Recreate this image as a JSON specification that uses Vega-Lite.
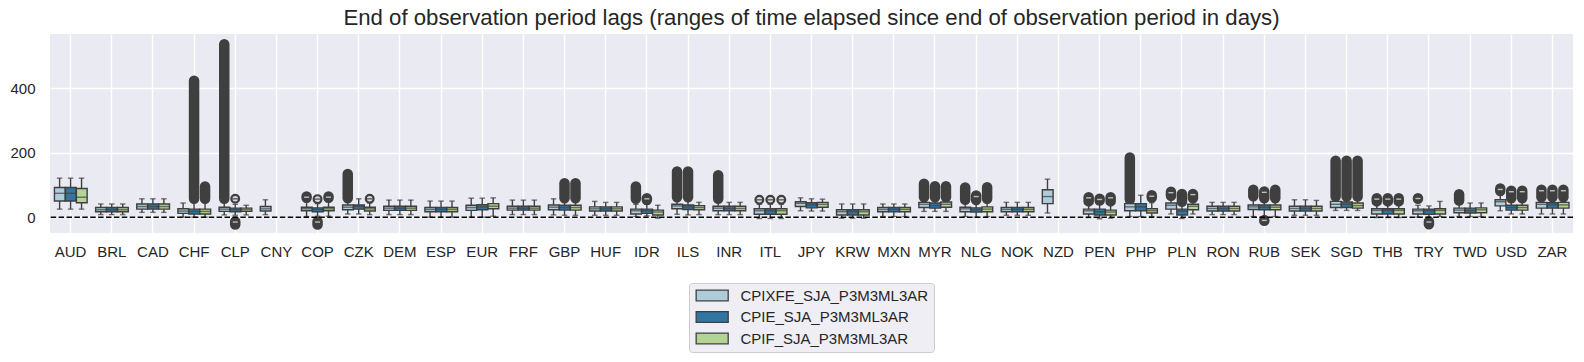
{
  "$schema": "https://vega.github.io/schema/vega-lite/v6.json",
  "width": 1523,
  "height": 199,
  "autosize": {"type": "none"},
  "padding": {"left": 50, "top": 34, "right": 11, "bottom": 129},
  "background": "white",
  "title": {"text": "End of observation period lags (ranges of time elapsed since end of observation period in days)", "fontSize": 22.2, "font": "Liberation Sans", "fontWeight": "normal", "color": "#262626", "anchor": "middle", "offset": 5},
  "config": {
    "view": {"fill": "#eaeaf2", "stroke": null},
    "axis": {"labelFont": "Liberation Sans", "labelFontSize": 15, "labelColor": "#262626", "domain": false, "ticks": false, "tickSize": 0, "grid": true, "gridColor": "white", "gridWidth": 1.4, "title": null}
  },
  "datasets": {
    "box": [
      {"c":"AUD","h":"CPIXFE_SJA_P3M3ML3AR","lo":25,"q1":50,"md":74,"q3":92,"hi":121},
      {"c":"AUD","h":"CPIE_SJA_P3M3ML3AR","lo":25,"q1":50,"md":74,"q3":92,"hi":121},
      {"c":"AUD","h":"CPIF_SJA_P3M3ML3AR","lo":25,"q1":45,"md":62,"q3":89,"hi":121},
      {"c":"BRL","h":"CPIXFE_SJA_P3M3ML3AR","lo":8,"q1":17,"md":23,"q3":30,"hi":41},
      {"c":"BRL","h":"CPIE_SJA_P3M3ML3AR","lo":8,"q1":17,"md":23,"q3":30,"hi":41},
      {"c":"BRL","h":"CPIF_SJA_P3M3ML3AR","lo":8,"q1":17,"md":23,"q3":30,"hi":41},
      {"c":"CAD","h":"CPIXFE_SJA_P3M3ML3AR","lo":15,"q1":25,"md":33,"q3":41,"hi":57},
      {"c":"CAD","h":"CPIE_SJA_P3M3ML3AR","lo":15,"q1":25,"md":33,"q3":41,"hi":57},
      {"c":"CAD","h":"CPIF_SJA_P3M3ML3AR","lo":15,"q1":25,"md":33,"q3":41,"hi":57},
      {"c":"CHF","h":"CPIXFE_SJA_P3M3ML3AR","lo":0,"q1":12,"md":19,"q3":26,"hi":44},
      {"c":"CHF","h":"CPIE_SJA_P3M3ML3AR","lo":0,"q1":10,"md":18,"q3":25,"hi":48},
      {"c":"CHF","h":"CPIF_SJA_P3M3ML3AR","lo":0,"q1":10,"md":18,"q3":25,"hi":48},
      {"c":"CLP","h":"CPIXFE_SJA_P3M3ML3AR","lo":7,"q1":18,"md":25,"q3":31,"hi":48},
      {"c":"CLP","h":"CPIE_SJA_P3M3ML3AR","lo":6,"q1":17,"md":23,"q3":28,"hi":40},
      {"c":"CLP","h":"CPIF_SJA_P3M3ML3AR","lo":7,"q1":18,"md":23,"q3":28,"hi":37},
      {"c":"CNY","h":"CPIXFE_SJA_P3M3ML3AR","lo":8,"q1":19,"md":26,"q3":33,"hi":54},
      {"c":"COP","h":"CPIXFE_SJA_P3M3ML3AR","lo":2,"q1":20,"md":26,"q3":31,"hi":48},
      {"c":"COP","h":"CPIE_SJA_P3M3ML3AR","lo":3,"q1":17,"md":24,"q3":29,"hi":42},
      {"c":"COP","h":"CPIF_SJA_P3M3ML3AR","lo":3,"q1":20,"md":26,"q3":31,"hi":48},
      {"c":"CZK","h":"CPIXFE_SJA_P3M3ML3AR","lo":10,"q1":23,"md":31,"q3":38,"hi":48},
      {"c":"CZK","h":"CPIE_SJA_P3M3ML3AR","lo":10,"q1":25,"md":33,"q3":38,"hi":57},
      {"c":"CZK","h":"CPIF_SJA_P3M3ML3AR","lo":8,"q1":19,"md":26,"q3":31,"hi":44},
      {"c":"DEM","h":"CPIXFE_SJA_P3M3ML3AR","lo":8,"q1":21,"md":28,"q3":34,"hi":53},
      {"c":"DEM","h":"CPIE_SJA_P3M3ML3AR","lo":8,"q1":21,"md":28,"q3":34,"hi":53},
      {"c":"DEM","h":"CPIF_SJA_P3M3ML3AR","lo":8,"q1":21,"md":28,"q3":34,"hi":53},
      {"c":"ESP","h":"CPIXFE_SJA_P3M3ML3AR","lo":0,"q1":17,"md":24,"q3":30,"hi":50},
      {"c":"ESP","h":"CPIE_SJA_P3M3ML3AR","lo":0,"q1":17,"md":24,"q3":30,"hi":50},
      {"c":"ESP","h":"CPIF_SJA_P3M3ML3AR","lo":0,"q1":17,"md":24,"q3":30,"hi":50},
      {"c":"EUR","h":"CPIXFE_SJA_P3M3ML3AR","lo":0,"q1":21,"md":30,"q3":37,"hi":59},
      {"c":"EUR","h":"CPIE_SJA_P3M3ML3AR","lo":0,"q1":23,"md":32,"q3":39,"hi":59},
      {"c":"EUR","h":"CPIF_SJA_P3M3ML3AR","lo":3,"q1":26,"md":34,"q3":42,"hi":60},
      {"c":"FRF","h":"CPIXFE_SJA_P3M3ML3AR","lo":8,"q1":22,"md":28,"q3":34,"hi":53},
      {"c":"FRF","h":"CPIE_SJA_P3M3ML3AR","lo":8,"q1":22,"md":28,"q3":34,"hi":53},
      {"c":"FRF","h":"CPIF_SJA_P3M3ML3AR","lo":8,"q1":22,"md":28,"q3":34,"hi":53},
      {"c":"GBP","h":"CPIXFE_SJA_P3M3ML3AR","lo":7,"q1":23,"md":31,"q3":38,"hi":57},
      {"c":"GBP","h":"CPIE_SJA_P3M3ML3AR","lo":6,"q1":22,"md":30,"q3":37,"hi":50},
      {"c":"GBP","h":"CPIF_SJA_P3M3ML3AR","lo":6,"q1":22,"md":30,"q3":37,"hi":50},
      {"c":"HUF","h":"CPIXFE_SJA_P3M3ML3AR","lo":6,"q1":19,"md":26,"q3":32,"hi":49},
      {"c":"HUF","h":"CPIE_SJA_P3M3ML3AR","lo":6,"q1":19,"md":26,"q3":32,"hi":46},
      {"c":"HUF","h":"CPIF_SJA_P3M3ML3AR","lo":6,"q1":19,"md":26,"q3":32,"hi":46},
      {"c":"IDR","h":"CPIXFE_SJA_P3M3ML3AR","lo":2,"q1":10,"md":20,"q3":25,"hi":40},
      {"c":"IDR","h":"CPIE_SJA_P3M3ML3AR","lo":4,"q1":12,"md":20,"q3":25,"hi":40},
      {"c":"IDR","h":"CPIF_SJA_P3M3ML3AR","lo":-3,"q1":7,"md":16,"q3":22,"hi":37},
      {"c":"ILS","h":"CPIXFE_SJA_P3M3ML3AR","lo":9,"q1":26,"md":35,"q3":40,"hi":55},
      {"c":"ILS","h":"CPIE_SJA_P3M3ML3AR","lo":7,"q1":24,"md":32,"q3":38,"hi":55},
      {"c":"ILS","h":"CPIF_SJA_P3M3ML3AR","lo":8,"q1":23,"md":30,"q3":36,"hi":46},
      {"c":"INR","h":"CPIXFE_SJA_P3M3ML3AR","lo":8,"q1":20,"md":28,"q3":34,"hi":48},
      {"c":"INR","h":"CPIE_SJA_P3M3ML3AR","lo":8,"q1":20,"md":27,"q3":34,"hi":46},
      {"c":"INR","h":"CPIF_SJA_P3M3ML3AR","lo":8,"q1":20,"md":27,"q3":34,"hi":46},
      {"c":"ITL","h":"CPIXFE_SJA_P3M3ML3AR","lo":-4,"q1":9,"md":20,"q3":26,"hi":40},
      {"c":"ITL","h":"CPIE_SJA_P3M3ML3AR","lo":-4,"q1":9,"md":20,"q3":26,"hi":40},
      {"c":"ITL","h":"CPIF_SJA_P3M3ML3AR","lo":-4,"q1":9,"md":20,"q3":26,"hi":40},
      {"c":"JPY","h":"CPIXFE_SJA_P3M3ML3AR","lo":20,"q1":33,"md":43,"q3":48,"hi":60},
      {"c":"JPY","h":"CPIE_SJA_P3M3ML3AR","lo":19,"q1":29,"md":38,"q3":45,"hi":57},
      {"c":"JPY","h":"CPIF_SJA_P3M3ML3AR","lo":19,"q1":31,"md":40,"q3":46,"hi":56},
      {"c":"KRW","h":"CPIXFE_SJA_P3M3ML3AR","lo":-3,"q1":7,"md":17,"q3":23,"hi":41},
      {"c":"KRW","h":"CPIE_SJA_P3M3ML3AR","lo":-3,"q1":7,"md":17,"q3":23,"hi":41},
      {"c":"KRW","h":"CPIF_SJA_P3M3ML3AR","lo":-3,"q1":7,"md":17,"q3":23,"hi":41},
      {"c":"MXN","h":"CPIXFE_SJA_P3M3ML3AR","lo":2,"q1":17,"md":24,"q3":30,"hi":41},
      {"c":"MXN","h":"CPIE_SJA_P3M3ML3AR","lo":2,"q1":17,"md":24,"q3":30,"hi":41},
      {"c":"MXN","h":"CPIF_SJA_P3M3ML3AR","lo":2,"q1":17,"md":24,"q3":30,"hi":41},
      {"c":"MYR","h":"CPIXFE_SJA_P3M3ML3AR","lo":18,"q1":30,"md":40,"q3":46,"hi":58},
      {"c":"MYR","h":"CPIE_SJA_P3M3ML3AR","lo":18,"q1":28,"md":36,"q3":44,"hi":55},
      {"c":"MYR","h":"CPIF_SJA_P3M3ML3AR","lo":18,"q1":31,"md":40,"q3":47,"hi":58},
      {"c":"NLG","h":"CPIXFE_SJA_P3M3ML3AR","lo":2,"q1":17,"md":26,"q3":31,"hi":45},
      {"c":"NLG","h":"CPIE_SJA_P3M3ML3AR","lo":0,"q1":16,"md":23,"q3":29,"hi":45},
      {"c":"NLG","h":"CPIF_SJA_P3M3ML3AR","lo":2,"q1":17,"md":25,"q3":32,"hi":45},
      {"c":"NOK","h":"CPIXFE_SJA_P3M3ML3AR","lo":6,"q1":17,"md":24,"q3":30,"hi":46},
      {"c":"NOK","h":"CPIE_SJA_P3M3ML3AR","lo":6,"q1":17,"md":24,"q3":30,"hi":46},
      {"c":"NOK","h":"CPIF_SJA_P3M3ML3AR","lo":6,"q1":17,"md":24,"q3":30,"hi":46},
      {"c":"NZD","h":"CPIXFE_SJA_P3M3ML3AR","lo":13,"q1":42,"md":64,"q3":85,"hi":118},
      {"c":"PEN","h":"CPIXFE_SJA_P3M3ML3AR","lo":-1,"q1":10,"md":20,"q3":25,"hi":45},
      {"c":"PEN","h":"CPIE_SJA_P3M3ML3AR","lo":-5,"q1":7,"md":17,"q3":25,"hi":45},
      {"c":"PEN","h":"CPIF_SJA_P3M3ML3AR","lo":-3,"q1":7,"md":16,"q3":22,"hi":45},
      {"c":"PHP","h":"CPIXFE_SJA_P3M3ML3AR","lo":2,"q1":20,"md":32,"q3":42,"hi":50},
      {"c":"PHP","h":"CPIE_SJA_P3M3ML3AR","lo":2,"q1":20,"md":32,"q3":42,"hi":68},
      {"c":"PHP","h":"CPIF_SJA_P3M3ML3AR","lo":2,"q1":13,"md":20,"q3":26,"hi":45},
      {"c":"PLN","h":"CPIXFE_SJA_P3M3ML3AR","lo":10,"q1":25,"md":37,"q3":44,"hi":55},
      {"c":"PLN","h":"CPIE_SJA_P3M3ML3AR","lo":-4,"q1":7,"md":19,"q3":25,"hi":40},
      {"c":"PLN","h":"CPIF_SJA_P3M3ML3AR","lo":10,"q1":23,"md":34,"q3":40,"hi":50},
      {"c":"RON","h":"CPIXFE_SJA_P3M3ML3AR","lo":8,"q1":19,"md":27,"q3":34,"hi":46},
      {"c":"RON","h":"CPIE_SJA_P3M3ML3AR","lo":8,"q1":19,"md":27,"q3":34,"hi":46},
      {"c":"RON","h":"CPIF_SJA_P3M3ML3AR","lo":8,"q1":19,"md":27,"q3":34,"hi":46},
      {"c":"RUB","h":"CPIXFE_SJA_P3M3ML3AR","lo":2,"q1":24,"md":32,"q3":38,"hi":55},
      {"c":"RUB","h":"CPIE_SJA_P3M3ML3AR","lo":0,"q1":23,"md":31,"q3":38,"hi":50},
      {"c":"RUB","h":"CPIF_SJA_P3M3ML3AR","lo":2,"q1":23,"md":31,"q3":38,"hi":50},
      {"c":"SEK","h":"CPIXFE_SJA_P3M3ML3AR","lo":6,"q1":19,"md":27,"q3":34,"hi":54},
      {"c":"SEK","h":"CPIE_SJA_P3M3ML3AR","lo":6,"q1":19,"md":27,"q3":34,"hi":54},
      {"c":"SEK","h":"CPIF_SJA_P3M3ML3AR","lo":6,"q1":19,"md":27,"q3":34,"hi":52},
      {"c":"SGD","h":"CPIXFE_SJA_P3M3ML3AR","lo":21,"q1":30,"md":40,"q3":49,"hi":58},
      {"c":"SGD","h":"CPIE_SJA_P3M3ML3AR","lo":21,"q1":30,"md":40,"q3":47,"hi":58},
      {"c":"SGD","h":"CPIF_SJA_P3M3ML3AR","lo":21,"q1":28,"md":36,"q3":44,"hi":58},
      {"c":"THB","h":"CPIXFE_SJA_P3M3ML3AR","lo":-1,"q1":10,"md":21,"q3":26,"hi":40},
      {"c":"THB","h":"CPIE_SJA_P3M3ML3AR","lo":-1,"q1":10,"md":21,"q3":26,"hi":40},
      {"c":"THB","h":"CPIF_SJA_P3M3ML3AR","lo":-1,"q1":10,"md":21,"q3":26,"hi":40},
      {"c":"TRY","h":"CPIXFE_SJA_P3M3ML3AR","lo":0,"q1":10,"md":20,"q3":25,"hi":37},
      {"c":"TRY","h":"CPIE_SJA_P3M3ML3AR","lo":0,"q1":9,"md":20,"q3":25,"hi":35},
      {"c":"TRY","h":"CPIF_SJA_P3M3ML3AR","lo":2,"q1":10,"md":21,"q3":26,"hi":49},
      {"c":"TWD","h":"CPIXFE_SJA_P3M3ML3AR","lo":2,"q1":14,"md":22,"q3":28,"hi":45},
      {"c":"TWD","h":"CPIE_SJA_P3M3ML3AR","lo":2,"q1":13,"md":21,"q3":28,"hi":44},
      {"c":"TWD","h":"CPIF_SJA_P3M3ML3AR","lo":2,"q1":14,"md":23,"q3":29,"hi":44},
      {"c":"USD","h":"CPIXFE_SJA_P3M3ML3AR","lo":20,"q1":35,"md":48,"q3":54,"hi":70},
      {"c":"USD","h":"CPIE_SJA_P3M3ML3AR","lo":10,"q1":22,"md":30,"q3":37,"hi":50},
      {"c":"USD","h":"CPIF_SJA_P3M3ML3AR","lo":10,"q1":22,"md":30,"q3":37,"hi":50},
      {"c":"ZAR","h":"CPIXFE_SJA_P3M3ML3AR","lo":10,"q1":28,"md":40,"q3":46,"hi":55},
      {"c":"ZAR","h":"CPIE_SJA_P3M3ML3AR","lo":10,"q1":28,"md":38,"q3":45,"hi":55},
      {"c":"ZAR","h":"CPIF_SJA_P3M3ML3AR","lo":10,"q1":28,"md":38,"q3":46,"hi":55}
    ],
    "blob": [
      {"c":"CHF","h":"CPIE_SJA_P3M3ML3AR","a":57,"b":423},
      {"c":"CHF","h":"CPIF_SJA_P3M3ML3AR","a":57,"b":95},
      {"c":"CLP","h":"CPIXFE_SJA_P3M3ML3AR","a":57,"b":536},
      {"c":"CLP","h":"CPIE_SJA_P3M3ML3AR","a":-23,"b":-13},
      {"c":"COP","h":"CPIXFE_SJA_P3M3ML3AR","a":60,"b":64},
      {"c":"COP","h":"CPIE_SJA_P3M3ML3AR","a":-23,"b":-13},
      {"c":"COP","h":"CPIF_SJA_P3M3ML3AR","a":60,"b":64},
      {"c":"CZK","h":"CPIXFE_SJA_P3M3ML3AR","a":59,"b":134},
      {"c":"GBP","h":"CPIE_SJA_P3M3ML3AR","a":59,"b":105},
      {"c":"GBP","h":"CPIF_SJA_P3M3ML3AR","a":59,"b":105},
      {"c":"IDR","h":"CPIXFE_SJA_P3M3ML3AR","a":57,"b":95},
      {"c":"IDR","h":"CPIE_SJA_P3M3ML3AR","a":53,"b":59},
      {"c":"ILS","h":"CPIXFE_SJA_P3M3ML3AR","a":62,"b":142},
      {"c":"ILS","h":"CPIE_SJA_P3M3ML3AR","a":62,"b":142},
      {"c":"INR","h":"CPIXFE_SJA_P3M3ML3AR","a":57,"b":130},
      {"c":"MYR","h":"CPIXFE_SJA_P3M3ML3AR","a":62,"b":104},
      {"c":"MYR","h":"CPIE_SJA_P3M3ML3AR","a":62,"b":96},
      {"c":"MYR","h":"CPIF_SJA_P3M3ML3AR","a":62,"b":96},
      {"c":"NLG","h":"CPIXFE_SJA_P3M3ML3AR","a":54,"b":92},
      {"c":"NLG","h":"CPIE_SJA_P3M3ML3AR","a":53,"b":67},
      {"c":"NLG","h":"CPIF_SJA_P3M3ML3AR","a":57,"b":93},
      {"c":"PEN","h":"CPIXFE_SJA_P3M3ML3AR","a":49,"b":62},
      {"c":"PEN","h":"CPIE_SJA_P3M3ML3AR","a":52,"b":57},
      {"c":"PEN","h":"CPIF_SJA_P3M3ML3AR","a":49,"b":62},
      {"c":"PHP","h":"CPIXFE_SJA_P3M3ML3AR","a":55,"b":185},
      {"c":"PHP","h":"CPIF_SJA_P3M3ML3AR","a":61,"b":68},
      {"c":"PLN","h":"CPIXFE_SJA_P3M3ML3AR","a":66,"b":79},
      {"c":"PLN","h":"CPIE_SJA_P3M3ML3AR","a":48,"b":72},
      {"c":"PLN","h":"CPIF_SJA_P3M3ML3AR","a":59,"b":72},
      {"c":"RUB","h":"CPIXFE_SJA_P3M3ML3AR","a":65,"b":85},
      {"c":"RUB","h":"CPIE_SJA_P3M3ML3AR","a":59,"b":80},
      {"c":"RUB","h":"CPIE_SJA_P3M3ML3AR","a":-11,"b":-9},
      {"c":"RUB","h":"CPIF_SJA_P3M3ML3AR","a":59,"b":85},
      {"c":"SGD","h":"CPIXFE_SJA_P3M3ML3AR","a":64,"b":175},
      {"c":"SGD","h":"CPIE_SJA_P3M3ML3AR","a":64,"b":175},
      {"c":"SGD","h":"CPIF_SJA_P3M3ML3AR","a":64,"b":175},
      {"c":"THB","h":"CPIXFE_SJA_P3M3ML3AR","a":49,"b":59},
      {"c":"THB","h":"CPIE_SJA_P3M3ML3AR","a":49,"b":59},
      {"c":"THB","h":"CPIF_SJA_P3M3ML3AR","a":49,"b":59},
      {"c":"TRY","h":"CPIXFE_SJA_P3M3ML3AR","a":57,"b":59},
      {"c":"TRY","h":"CPIE_SJA_P3M3ML3AR","a":-22,"b":-13},
      {"c":"TWD","h":"CPIXFE_SJA_P3M3ML3AR","a":52,"b":71},
      {"c":"USD","h":"CPIXFE_SJA_P3M3ML3AR","a":81,"b":89},
      {"c":"USD","h":"CPIE_SJA_P3M3ML3AR","a":59,"b":82},
      {"c":"USD","h":"CPIF_SJA_P3M3ML3AR","a":59,"b":82},
      {"c":"ZAR","h":"CPIXFE_SJA_P3M3ML3AR","a":62,"b":85},
      {"c":"ZAR","h":"CPIE_SJA_P3M3ML3AR","a":62,"b":85},
      {"c":"ZAR","h":"CPIF_SJA_P3M3ML3AR","a":62,"b":85}
    ],
    "dash": [
      {"c":"CLP","h":"CPIE_SJA_P3M3ML3AR","m":-15},
      {"c":"COP","h":"CPIXFE_SJA_P3M3ML3AR","m":62},
      {"c":"COP","h":"CPIE_SJA_P3M3ML3AR","m":-15},
      {"c":"COP","h":"CPIF_SJA_P3M3ML3AR","m":62},
      {"c":"IDR","h":"CPIE_SJA_P3M3ML3AR","m":57},
      {"c":"NLG","h":"CPIE_SJA_P3M3ML3AR","m":64},
      {"c":"PEN","h":"CPIXFE_SJA_P3M3ML3AR","m":60},
      {"c":"PEN","h":"CPIE_SJA_P3M3ML3AR","m":55},
      {"c":"PEN","h":"CPIF_SJA_P3M3ML3AR","m":60},
      {"c":"PHP","h":"CPIF_SJA_P3M3ML3AR","m":65},
      {"c":"PLN","h":"CPIXFE_SJA_P3M3ML3AR","m":76},
      {"c":"PLN","h":"CPIF_SJA_P3M3ML3AR","m":70},
      {"c":"RUB","h":"CPIE_SJA_P3M3ML3AR","m":77},
      {"c":"RUB","h":"CPIE_SJA_P3M3ML3AR","m":-10},
      {"c":"THB","h":"CPIXFE_SJA_P3M3ML3AR","m":56},
      {"c":"THB","h":"CPIE_SJA_P3M3ML3AR","m":56},
      {"c":"THB","h":"CPIF_SJA_P3M3ML3AR","m":56},
      {"c":"TRY","h":"CPIXFE_SJA_P3M3ML3AR","m":58},
      {"c":"TRY","h":"CPIE_SJA_P3M3ML3AR","m":-15},
      {"c":"USD","h":"CPIXFE_SJA_P3M3ML3AR","m":86},
      {"c":"USD","h":"CPIE_SJA_P3M3ML3AR","m":79},
      {"c":"USD","h":"CPIF_SJA_P3M3ML3AR","m":79},
      {"c":"ZAR","h":"CPIXFE_SJA_P3M3ML3AR","m":82},
      {"c":"ZAR","h":"CPIE_SJA_P3M3ML3AR","m":82},
      {"c":"ZAR","h":"CPIF_SJA_P3M3ML3AR","m":82}
    ],
    "ring": [
      {"c":"CLP","h":"CPIE_SJA_P3M3ML3AR","m":57},
      {"c":"COP","h":"CPIE_SJA_P3M3ML3AR","m":56},
      {"c":"CZK","h":"CPIF_SJA_P3M3ML3AR","m":57},
      {"c":"ITL","h":"CPIXFE_SJA_P3M3ML3AR","m":54},
      {"c":"ITL","h":"CPIE_SJA_P3M3ML3AR","m":54},
      {"c":"ITL","h":"CPIF_SJA_P3M3ML3AR","m":54}
    ]
  },
  "encoding": {
    "x": {"field": "c", "type": "nominal",
      "scale": {"domain": ["AUD","BRL","CAD","CHF","CLP","CNY","COP","CZK","DEM","ESP","EUR","FRF","GBP","HUF","IDR","ILS","INR","ITL","JPY","KRW","MXN","MYR","NLG","NOK","NZD","PEN","PHP","PLN","RON","RUB","SEK","SGD","THB","TRY","TWD","USD","ZAR"], "paddingInner": 0.2, "paddingOuter": 0.1},
      "axis": {"labelAngle": 0, "bandPosition": 0.5, "labelPadding": 11}},
    "xOffset": {"field": "h", "type": "nominal", "scale": {"domain": ["CPIXFE_SJA_P3M3ML3AR","CPIE_SJA_P3M3ML3AR","CPIF_SJA_P3M3ML3AR"], "paddingInner": 0, "paddingOuter": 0}}
  },
  "layer": [
    {"data": {"name": "box"}, "mark": {"type": "rule", "color": "#3f3f3f", "strokeWidth": 1.4},
     "encoding": {"y": {"field": "lo", "type": "quantitative", "scale": {"domain": [-49, 568], "nice": false, "zero": false}, "axis": {"values": [0, 200, 400], "labelPadding": 15}}, "y2": {"field": "hi"}}},
    {"data": {"name": "box"}, "mark": {"type": "tick", "color": "#3f3f3f", "thickness": 1.4, "size": 5.5, "orient": "horizontal"},
     "encoding": {"y": {"field": "lo", "type": "quantitative"}}},
    {"data": {"name": "box"}, "mark": {"type": "tick", "color": "#3f3f3f", "thickness": 1.4, "size": 5.5, "orient": "horizontal"},
     "encoding": {"y": {"field": "hi", "type": "quantitative"}}},
    {"data": {"name": "blob"}, "mark": {"type": "rule", "color": "#3f3f3f", "strokeWidth": 10.5, "strokeCap": "round"},
     "encoding": {"y": {"field": "a", "type": "quantitative"}, "y2": {"field": "b"}}},
    {"data": {"name": "dash"}, "mark": {"type": "tick", "color": "#f4f4f8", "thickness": 1.4, "size": 5, "orient": "horizontal"},
     "encoding": {"y": {"field": "m", "type": "quantitative"}}},
    {"data": {"name": "ring"}, "mark": {"type": "point", "shape": "circle", "size": 60, "stroke": "#3f3f3f", "strokeWidth": 2.2, "fill": "#d8d8e0", "filled": false, "opacity": 1},
     "encoding": {"y": {"field": "m", "type": "quantitative"}}},
    {"data": {"name": "ring"}, "mark": {"type": "tick", "color": "#3f3f3f", "thickness": 1.6, "size": 6, "orient": "horizontal"},
     "encoding": {"y": {"field": "m", "type": "quantitative"}}},
    {"data": {"name": "box"}, "mark": {"type": "bar", "stroke": "#3f3f3f", "strokeWidth": 1.4, "width": {"band": 0.98}},
     "encoding": {"y": {"field": "q1", "type": "quantitative"}, "y2": {"field": "q3"},
       "fill": {"field": "h", "type": "nominal",
         "scale": {"domain": ["CPIXFE_SJA_P3M3ML3AR","CPIE_SJA_P3M3ML3AR","CPIF_SJA_P3M3ML3AR"], "range": ["#aeccdb","#3275a1","#b3d495"]},
         "legend": {"orient": "none", "legendX": 639, "legendY": 249, "direction": "vertical", "title": null, "padding": 5,
           "fillColor": "#eeeef4", "strokeColor": "#cccccc", "cornerRadius": 3,
           "labelFont": "Liberation Sans", "labelFontSize": 15, "labelColor": "#262626", "labelLimit": 400,
           "symbolType": "M-1,-1H5V1H-1Z", "symbolSize": 114, "symbolStrokeColor": "#3f3f3f", "symbolStrokeWidth": 1.3, "symbolOpacity": 1,
           "symbolOffset": 0, "labelOffset": 31.5, "rowPadding": 4.5}}}},
    {"data": {"name": "box"}, "mark": {"type": "tick", "color": "#3f3f3f", "thickness": 1.4, "size": 10.7, "orient": "horizontal"},
     "encoding": {"y": {"field": "md", "type": "quantitative"}}},
    {"data": {"values": [{}]}, "mark": {"type": "rule", "color": "black", "strokeWidth": 1.5, "strokeDash": [5.5, 2.4]},
     "encoding": {"y": {"datum": 0}, "x": null, "xOffset": null}}
  ]
}
